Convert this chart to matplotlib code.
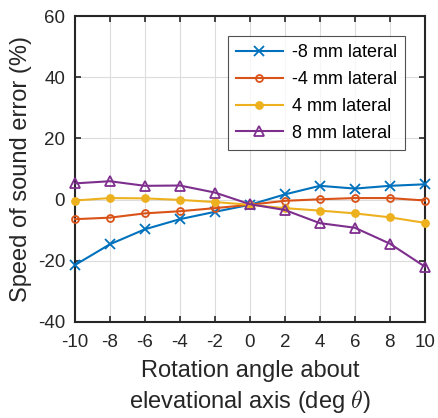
import matplotlib.pyplot as plt
import numpy as np

plt.rcParams["font.family"] = ["Liberation Sans", "DejaVu Sans"]
plt.rcParams["mathtext.fontset"] = "cm"
plt.rcParams["axes.unicode_minus"] = False

angles = [-10, -8, -6, -4, -2, 0, 2, 4, 6, 8, 10]
lat_m8 = [-21.4, -14.6, -9.7, -6.4, -4.0, -1.7, 1.7, 4.5, 3.6, 4.5, 5.0]
lat_m4 = [-6.4, -5.9, -4.5, -3.8, -2.8, -1.7, -0.4, 0.1, 0.5, 0.5, -0.3]
lat_p4 = [-0.3, 0.5, 0.4, -0.1, -0.8, -1.7, -2.8, -3.6, -4.5, -5.8, -7.6]
lat_p8 = [5.3, 6.0, 4.5, 4.6, 2.3, -1.5, -3.4, -7.7, -9.2, -14.4, -21.9]

series = [
    ("-8 mm lateral", lat_m8, "#0072BD", "x", "#0072BD"),
    ("-4 mm lateral", lat_m4, "#D95319", "o", "none"),
    ("4 mm lateral", lat_p4, "#EDB120", "o", "#EDB120"),
    ("8 mm lateral", lat_p8, "#7E2F8E", "^", "none"),
]

fig = plt.figure(figsize=(4.38, 4.18), dpi=100)
ax = fig.add_axes([0.171, 0.2297, 0.799, 0.732])

for label, vals, color, marker, face in series:
    ms = 5 if marker == "o" else 7.5
    ax.plot(angles, vals, color=color, marker=marker, markerfacecolor=face,
            markeredgecolor=color, markersize=ms, markeredgewidth=1.3,
            linewidth=1.5, label=label, clip_on=False, zorder=3)

ax.set_xlim(-10, 10)
ax.set_ylim(-40, 60)
ax.set_xticks(np.arange(-10, 11, 2))
ax.set_yticks(np.arange(-40, 61, 20))
ax.grid(True, color="#dcdcdc", linewidth=0.8)
ax.set_axisbelow(True)
ax.tick_params(direction="in", top=True, right=True, labelsize=13.5,
               colors="#262626", length=4, width=1.2)
ax.tick_params(axis="x", pad=9)
ax.tick_params(axis="y", pad=7)
for s in ax.spines.values():
    s.set_color("#262626")
    s.set_linewidth(1.5)

ax.set_xlabel("Rotation angle about\nelevational axis (deg $\\theta$)",
              fontsize=17, color="#262626", labelpad=6, linespacing=1.3)
ax.set_ylabel("Speed of sound error (%)", fontsize=17, color="#262626",
              labelpad=4)

leg = ax.legend(loc="upper right", bbox_to_anchor=(0.943, 0.935), fontsize=13,
                frameon=True, fancybox=False, edgecolor="#262626",
                handlelength=2.6, borderpad=0.45, labelspacing=0.55,
                handletextpad=0.5, borderaxespad=0)
leg.get_frame().set_linewidth(0.8)

fig.savefig("out.png", dpi=100)
